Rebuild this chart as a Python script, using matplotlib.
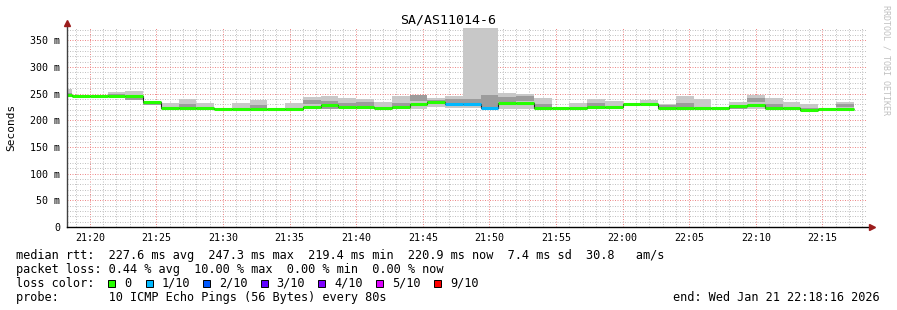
import matplotlib
matplotlib.use("Agg")
import matplotlib.pyplot as plt
from matplotlib.patches import Rectangle
from matplotlib.ticker import MultipleLocator, FixedLocator
import numpy as np

nan = np.nan

# x axis is minutes after 21:00, one smokeping step = 80 s
window = (18 + 16 / 60, 78 + 16 / 60)          # 21:18:16 .. 22:18:16
first_step = 17 + 20 / 60                       # 21:17:20
step_min = 80 / 60

# median rtt (ms) and loss class per step
median = [247.3, 245, 245, 245, 245, 234, 223, 223, 223, 222,
          222, 222, 222, 222, 225, 229, 225, 225, 224, 225,
          230, 234, 230, 230, 223, 232, 232, 223, 223, 223,
          225, 226, 230, 231, 223, 223, 223, 223, 228, 229,
          223, 224, 219.4, 221, 220.9]
loss = [0, 0, 0, 0, 0, 0, 0, 0, 0, 0,
        0, 0, 0, 0, 0, 0, 0, 0, 0, 0,
        0, 0, 1, 1, 1, 0, 0, 0, 0, 0,
        0, 0, 0, 0, 0, 0, 0, 0, 0, 0,
        0, 0, 0, 0, 0]
# smoke: full ping spread and inner (darker) spread
smoke_lo = [244, 245, 245, 244, 239, 229, 222, 222, 222, 222,
            222, 222, 222, 222, 222, 222, 222, 222, 222, 222,
            221, 226, 224, 224, 222, 222, 222, 222, 223, 222,
            222, 222, 228, 228, 222, 222, 222, 223, 222, 222,
            222, 222, 218, 219, 219]
smoke_hi = [259, 245, 245, 253, 256, 236, 232, 240, 232, 222,
            232, 238, 222, 232, 244, 246, 242, 240, 235, 245,
            247, 242, 246, 380, 380, 251, 249, 242, 223, 232,
            240, 236, 233, 238, 230, 246, 240, 223, 235, 248,
            242, 235, 230, 224, 235]
core_lo = [246, nan, nan, 244, 239, 229, 222, 223, nan, nan,
           nan, 223, nan, nan, 230, 222, 226, 228, nan, 226,
           237, 230, 233, 231, 226, 235, 237, 224, nan, nan,
           226, nan, nan, nan, 224, 224, nan, nan, 222, 235,
           224, nan, 218, nan, 225]
core_hi = [252, nan, nan, 249, 242, 232, 226, 230, nan, nan,
           nan, 229, nan, nan, 238, 236, 232, 234, nan, 232,
           247, 238, 240, 241, 247, 244, 245, 230, nan, nan,
           232, nan, nan, nan, 229, 232, nan, nan, 226, 242,
           230, nan, 223, nan, 230]

loss_colors = ['#26ff00', '#00b8ff', '#0059ff', '#5e00ff', '#7e00ff', '#dd00ff', '#ff0000']
loss_labels = ['0', '1/10', '2/10', '3/10', '4/10', '5/10', '9/10']

y_ticks = [0, 50, 100, 150, 200, 250, 300, 350]
y_labels = ['0', '50 m', '100 m', '150 m', '200 m', '250 m', '300 m', '350 m']
x_ticks = [20, 25, 30, 35, 40, 45, 50, 55, 60, 65, 70, 75]
x_labels = ['21:20', '21:25', '21:30', '21:35', '21:40', '21:45', '21:50',
            '21:55', '22:00', '22:05', '22:10', '22:15']

title = 'SA/AS11014-6'
legend_lines = [
    'median rtt:  227.6 ms avg  247.3 ms max  219.4 ms min  220.9 ms now  7.4 ms sd  30.8   am/s',
    'packet loss: 0.44 % avg  10.00 % max  0.00 % min  0.00 % now',
    'loss color:',
    'probe:       10 ICMP Echo Pings (56 Bytes) every 80s',
]
end_text = 'end: Wed Jan 21 22:18:16 2026'

W, H = 897, 310
MONO = 'DejaVu Sans Mono'


def fx(x):
    return x / W


def fy(y):
    return 1 - y / H


def main():
    fig = plt.figure(figsize=(W / 100, H / 100), dpi=100)
    ax = fig.add_axes([fx(66.7), fy(227.1), (866 - 66.7) / W, (227.1 - 27.7) / H])

    n = len(median)
    starts = first_step + step_min * np.arange(n)
    ends = starts + step_min
    lo = np.array(smoke_lo)
    hi = np.array(smoke_hi)
    clo = np.array(core_lo)
    chi = np.array(core_hi)

    ax.bar(starts, hi - lo, width=step_min, bottom=lo, align='edge',
           color='#c8c8c8', linewidth=0, zorder=2)
    ok = ~np.isnan(clo)
    ax.bar(starts[ok], chi[ok] - clo[ok], width=step_min, bottom=clo[ok], align='edge',
           color='#9c9c9c', linewidth=0, zorder=3)
    edges = np.append(starts, ends[-1])
    ax.stairs(median, edges, baseline=None, color='#202020', lw=0.8, zorder=4)
    ax.hlines(median, starts, ends, colors=[loss_colors[l] for l in loss], lw=2.2, zorder=5)

    ax.set_xlim(*window)
    ax.set_ylim(0, 374)

    ax.xaxis.set_major_locator(FixedLocator(x_ticks))
    ax.set_xticklabels(x_labels)
    ax.xaxis.set_minor_locator(MultipleLocator(1))
    ax.yaxis.set_major_locator(FixedLocator(y_ticks))
    ax.set_yticklabels(y_labels)
    ax.yaxis.set_minor_locator(MultipleLocator(10))
    ax.tick_params(which='both', length=0)
    ax.tick_params(axis='x', pad=4.5, labelsize=7.2)
    ax.tick_params(axis='y', pad=4.5, labelsize=7.2)
    for lab in ax.get_xticklabels() + ax.get_yticklabels():
        lab.set_family(MONO)

    ax.set_axisbelow(True)
    ax.grid(which='minor', color='#c2c2c2', lw=0.72, linestyle=(0, (1, 1.5)))
    ax.grid(which='major', color='#ee8a8a', lw=0.72, linestyle=(0, (1, 1.5)))

    for s in ('top', 'right', 'left', 'bottom'):
        ax.spines[s].set_visible(False)
    ax.plot([0, 0], [0, 1.015], transform=ax.transAxes, color='#404040', lw=1, clip_on=False, zorder=6)
    ax.plot([0, 1.004], [0, 0], transform=ax.transAxes, color='black', lw=1, clip_on=False, zorder=6)
    ax.plot([0], [1.025], marker='^', ms=4, color='#9b1c1c', transform=ax.transAxes, clip_on=False, zorder=7)
    ax.plot([1.007], [0], marker='>', ms=4, color='#9b1c1c', transform=ax.transAxes, clip_on=False, zorder=7)

    fig.text(fx(448), fy(20), title, family=MONO, fontsize=9.5, ha='center', va='center')
    fig.text(fx(11), fy(127), 'Seconds', family=MONO, fontsize=8, rotation=90, ha='center', va='center')
    fig.text(fx(886), fy(60), 'RRDTOOL / TOBI OETIKER', family=MONO, fontsize=6, color='#c0c0c0',
             rotation=270, ha='center', va='center')

    baselines = [258.5, 272.6, 286.7, 300.8]
    for line, b in zip(legend_lines, baselines):
        fig.text(fx(16), fy(b), line, family=MONO, fontsize=8.55, va='baseline')
    fig.text(fx(880), fy(baselines[3]), end_text, family=MONO, fontsize=8.55, va='baseline', ha='right')

    box_x = [108.3, 145.7, 202.7, 260.7, 318.3, 376, 434]
    for bx, col, lab in zip(box_x, loss_colors, loss_labels):
        fig.patches.append(Rectangle((fx(bx), fy(286.7)), 7 / W, 7 / H, transform=fig.transFigure,
                                     facecolor=col, edgecolor='black', lw=0.7))
        fig.text(fx(bx + 16), fy(baselines[2]), lab, family=MONO, fontsize=8.55, va='baseline')

    fig.savefig('out.png', dpi=100, facecolor='white')


if __name__ == '__main__':
    main()
